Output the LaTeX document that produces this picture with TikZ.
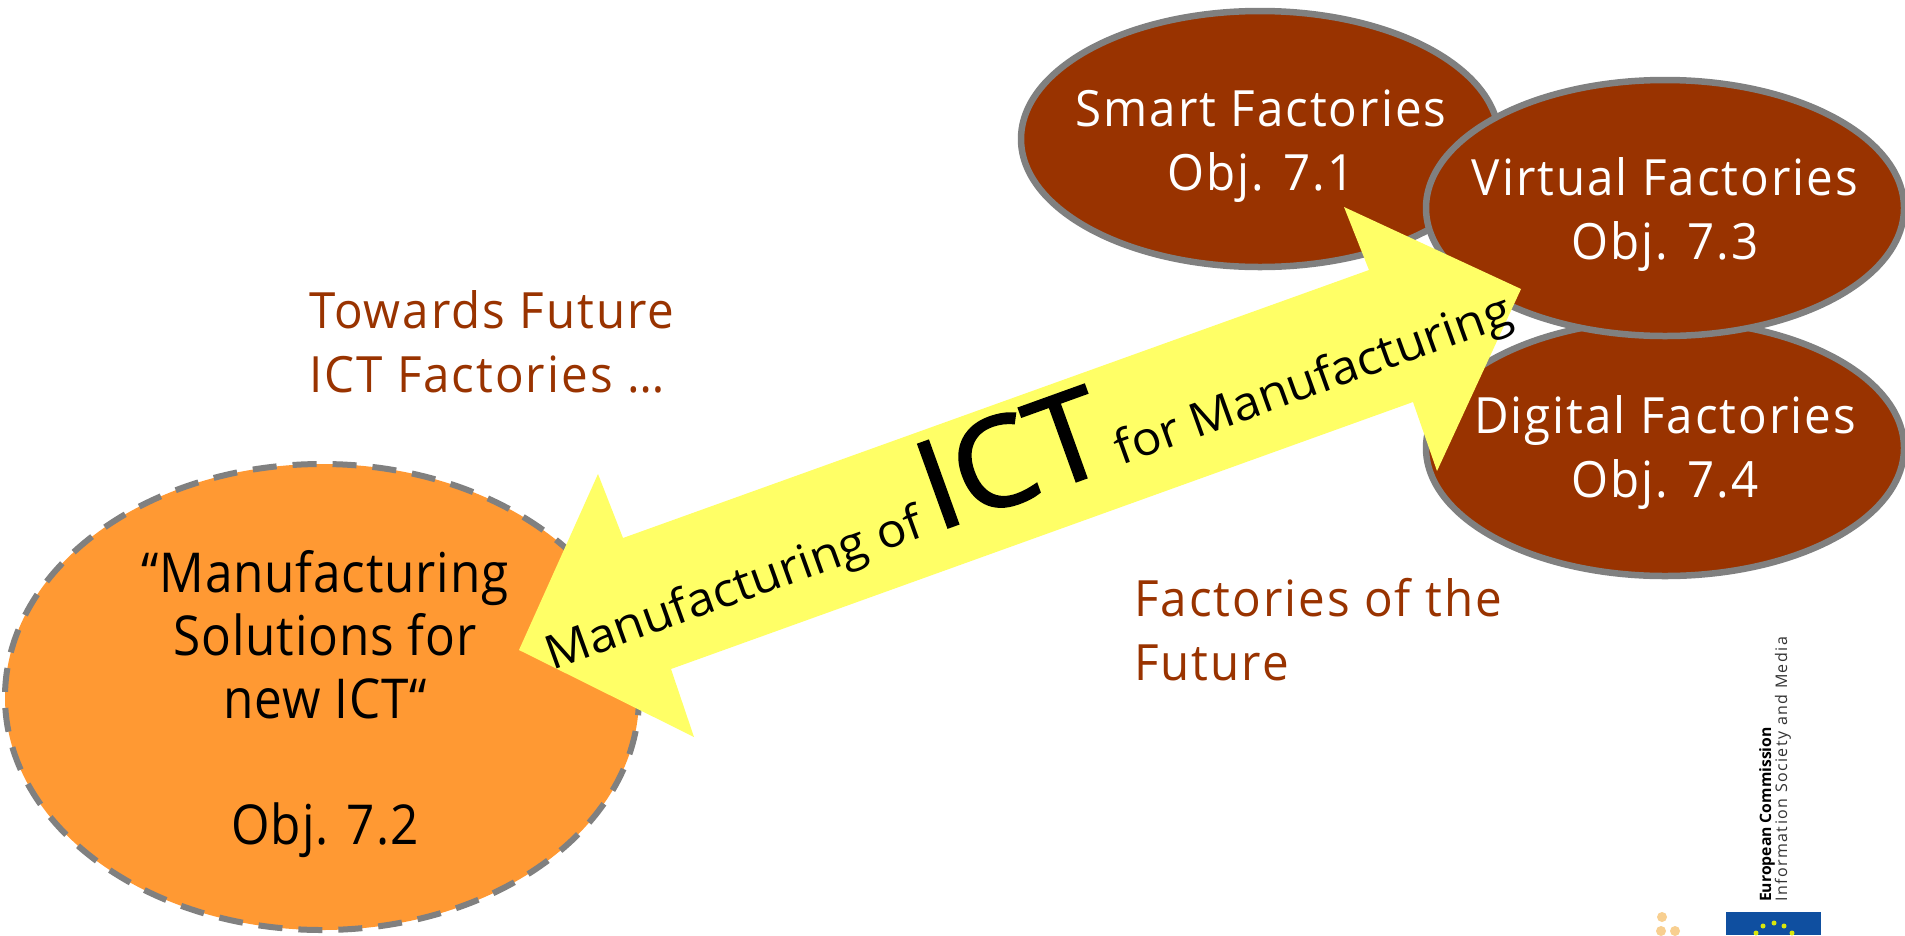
\documentclass[tikz,border=0pt]{standalone}
\usepackage{fontspec}
\usetikzlibrary{shapes.geometric}
\setmainfont{Open Sans}
\newfontfamily\boxfont[FakeStretch=0.95,LetterSpace=4]{Open Sans}
\newfontfamily\bigboxfont[FakeStretch=0.9,LetterSpace=1.5]{Open Sans}
\newfontfamily\arrowfont[FakeStretch=1.05]{Open Sans}
\newfontfamily\ictfont[FakeBold=1.6,FakeStretch=1.05]{Open Sans}
\newfontfamily\logofont{Open Sans}
\newfontfamily\logospaced[LetterSpace=9]{Open Sans}
\definecolor{brownfill}{HTML}{993300}
\definecolor{orangefill}{HTML}{FF9933}
\definecolor{yellowfill}{HTML}{FFFF66}
\definecolor{rimgray}{HTML}{808080}
\definecolor{eublue}{HTML}{0F4FA0}
\definecolor{eudot}{HTML}{F8CF90}
\tikzset{
  x=1pt,y=-1pt,
  factory/.style={ellipse,draw=rimgray,line width=6.5pt,fill=brownfill,minimum width=478pt,minimum height=256pt,inner sep=0pt},
  lbl/.style={align=center,inner sep=0pt,font=\boxfont\fontsize{50}{64}\selectfont},
  whitelbl/.style={lbl,text=white},
  blacklbl/.style={align=center,inner sep=0pt,text=black,font=\bigboxfont\fontsize{55}{63}\selectfont},
  brownlbl/.style={align=left,inner sep=0pt,text=brownfill,font=\boxfont\fontsize{50}{64}\selectfont},
  star/.style={circle,fill=yellow!85!green,inner sep=0pt,minimum size=5pt},
  dot/.style={circle,fill=eudot,inner sep=0pt,minimum size=10pt}
}
\begin{document}
\begin{tikzpicture}
\useasboundingbox (0,0) rectangle (1905,935);
\fill[white] (0,0) rectangle (1905,935);
\node[factory] (smart) at (1260,139) {};
\node[factory] (digital) at (1665,448) {};
\node[factory] (virtual) at (1665,208) {};
\node[ellipse,draw=rimgray,line width=6pt,dash pattern=on 24pt off 16pt,fill=orangefill,minimum width=634pt,minimum height=466pt,inner sep=0pt] (orange) at (322,697) {};
\node[whitelbl] (smarttext) at (1261,146) {Smart Factories\\Obj. 7.1};
\node[whitelbl] (digitaltext) at (1665,453) {Digital Factories\\Obj. 7.4};
\node[blacklbl] (orangetext) at (325,704) {“Manufacturing\\Solutions for\\new ICT“\\[0pt]\\Obj. 7.2};
\fill[yellowfill] (519,650) -- (598,474) -- (623,538) -- (1369,270) -- (1344,207) -- (1521,289) -- (1437,471) -- (1413,402) -- (671,669) -- (694,737) -- cycle;
\node[whitelbl] (virtualtext) at (1665,215) {Virtual Factories\\Obj. 7.3};
\node[rotate=19.8,inner sep=0pt,font=\arrowfont\fontsize{47}{50}\selectfont] (band) at (1020,460) {Manufacturing of\hspace{-2pt} {\ictfont\fontsize{124}{126}\selectfont ICT}\hspace{-6pt} for Manufacturing};
\node[brownlbl,anchor=west] (towards) at (309,342) {Towards Future\\ICT Factories …};
\node[brownlbl,anchor=west] (future) at (1134,630) {Factories of the\\Future};
\node[rotate=90,anchor=west,inner sep=0pt,font=\logofont\bfseries\fontsize{15.7}{18}\selectfont] (ec) at (1767,902) {European Commission};
\node[rotate=90,anchor=west,inner sep=0pt,text=black!80,font=\logospaced\fontsize{16}{18}\selectfont] (isl) at (1783,902) {Information Society and Media};
\fill[eublue] (1726,912) rectangle (1821,935);
\foreach \n/\px/\py in {a/1774/923,b/1763/926,c/1784/926,d/1756/933,e/1792/933}
  \node[star] (s\n) at (\px,\py) {};
\node[dot] (d1) at (1662,917) {};
\node[dot] (d2) at (1661,931) {};
\node[dot] (d3) at (1675,931) {};
\end{tikzpicture}
\end{document}
